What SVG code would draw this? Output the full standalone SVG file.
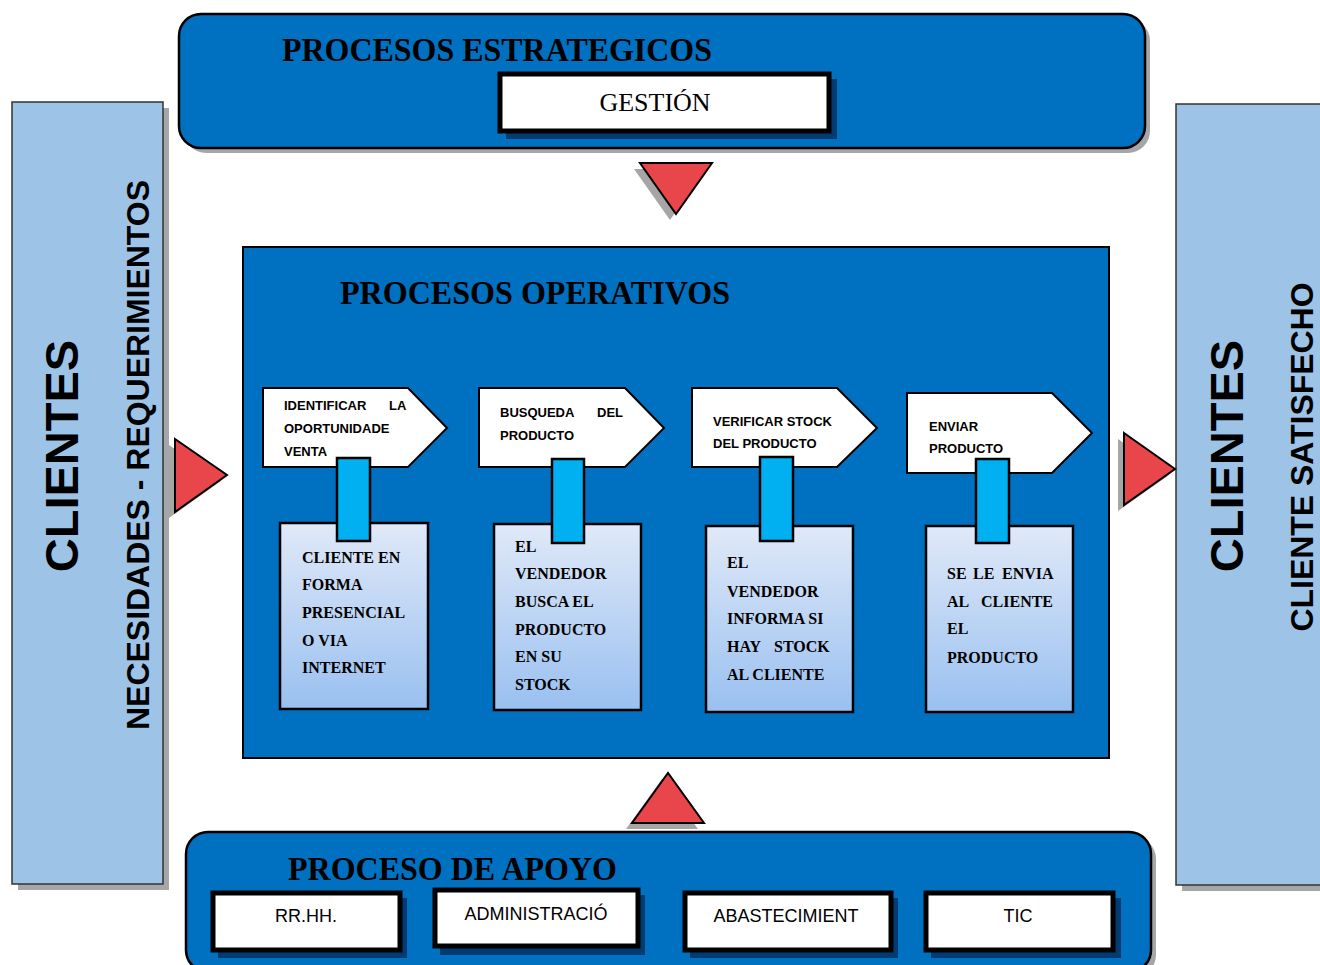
<svg xmlns="http://www.w3.org/2000/svg" width="1320" height="965" viewBox="0 0 1320 965">
<defs>
<linearGradient id="gr" x1="0" y1="0" x2="0" y2="1">
<stop offset="0" stop-color="#e0e9f8"/>
<stop offset="1" stop-color="#99c0f0"/>
</linearGradient>
</defs>
<style>
.panel{fill:#9dc3e6;stroke:#333;stroke-width:1.5}
.shadow{fill:#a6a6a6}
.dshadow{fill:#003c73}
.blue{fill:#0070c0;stroke:#000;stroke-width:2.5}
.wbox{fill:#fff;stroke:#000;stroke-width:5}
.pent{fill:#fff;stroke:#000;stroke-width:2}
.gbox{fill:url(#gr);stroke:#000;stroke-width:2.5}
.cyan{fill:#00b0f0;stroke:#000;stroke-width:2.5}
.tri{fill:#e8464a;stroke:#000;stroke-width:2}
.title{font-family:"Liberation Serif","Times New Roman",serif;font-weight:bold;font-size:33px;fill:#000}
.big{font-family:"Liberation Sans",Arial,sans-serif;font-weight:bold;font-size:47px;fill:#000}
.side{font-family:"Liberation Sans",Arial,sans-serif;font-weight:bold;font-size:32px;fill:#000}
.pt{font-family:"Liberation Sans",Arial,sans-serif;font-weight:bold;font-size:13px;fill:#000}
.bt{font-family:"Liberation Serif","Times New Roman",serif;font-weight:bold;font-size:16px;fill:#000}
.st{font-family:"Liberation Sans",Arial,sans-serif;font-size:18px;fill:#000}
</style>
<rect width="1320" height="965" fill="#fff"/>

<g id="clientes-izq">
<rect class="shadow" x="18" y="108" width="151" height="782"/>
<rect class="panel" x="12" y="102" width="151" height="782"/>
<text class="big" transform="translate(78,456) rotate(-90)" text-anchor="middle">CLIENTES</text>
<text class="side" transform="translate(149,455) rotate(-90)" text-anchor="middle" textLength="550" lengthAdjust="spacingAndGlyphs">NECESIDADES - REQUERIMIENTOS</text>
</g>

<g id="clientes-der">
<rect class="shadow" x="1182" y="110" width="150" height="781"/>
<rect class="panel" x="1176" y="104" width="150" height="781"/>
<text class="big" transform="translate(1243,456) rotate(-90)" text-anchor="middle">CLIENTES</text>
<text class="side" transform="translate(1313,457) rotate(-90)" text-anchor="middle" textLength="349" lengthAdjust="spacingAndGlyphs">CLIENTE SATISFECHO</text>
</g>

<g id="estrategicos">
<rect class="shadow" x="184" y="19" width="966" height="134" rx="22"/>
<rect class="blue" x="179" y="14" width="966" height="134" rx="22"/>
<text class="title" x="282" y="61" textLength="430" lengthAdjust="spacingAndGlyphs">PROCESOS ESTRATEGICOS</text>
</g>
<g id="gestion">
<rect class="dshadow" x="506" y="79" width="331" height="60"/>
<rect class="wbox" x="500" y="74" width="329" height="57"/>
<text x="655" y="111" text-anchor="middle" font-family="Liberation Serif, Times New Roman, serif" font-size="26">GESTIÓN</text>
</g>

<g id="operativos">
<rect x="243" y="247" width="866" height="511" fill="#0070c0" stroke="#000" stroke-width="2"/>
<text class="title" x="340" y="304" font-size="32" textLength="390" lengthAdjust="spacingAndGlyphs">PROCESOS OPERATIVOS</text>
</g>

<g id="p1">
<polygon class="pent" points="263,388 408,388 447,428 408,467 263,467"/>
<text class="pt" x="284" y="410">IDENTIFICAR</text>
<text class="pt" x="389" y="410">LA</text>
<text class="pt" x="284" y="433">OPORTUNIDADE</text>
<text class="pt" x="284" y="456">VENTA</text>
</g>
<g id="p2">
<polygon class="pent" points="479,388 625,388 664,428 625,467 479,467"/>
<text class="pt" x="500" y="417">BUSQUEDA</text>
<text class="pt" x="597" y="417">DEL</text>
<text class="pt" x="500" y="440">PRODUCTO</text>
</g>
<g id="p3">
<polygon class="pent" points="692,388 837,388 877,428 837,467 692,467"/>
<text class="pt" x="713" y="426">VERIFICAR STOCK</text>
<text class="pt" x="713" y="448">DEL PRODUCTO</text>
</g>
<g id="p4">
<polygon class="pent" points="907,393 1052,393 1092,433 1052,473 907,473"/>
<text class="pt" x="929" y="431">ENVIAR</text>
<text class="pt" x="929" y="453">PRODUCTO</text>
</g>

<g id="d1">
<rect class="gbox" x="280" y="523" width="148" height="186"/>
<text class="bt" x="302" y="563">CLIENTE EN</text>
<text class="bt" x="302" y="590">FORMA</text>
<text class="bt" x="302" y="618">PRESENCIAL</text>
<text class="bt" x="302" y="646">O VIA</text>
<text class="bt" x="302" y="673">INTERNET</text>
</g>
<g id="d2">
<rect class="gbox" x="494" y="524" width="147" height="186"/>
<text class="bt" x="515" y="552">EL</text>
<text class="bt" x="515" y="579">VENDEDOR</text>
<text class="bt" x="515" y="607">BUSCA EL</text>
<text class="bt" x="515" y="635">PRODUCTO</text>
<text class="bt" x="515" y="662">EN SU</text>
<text class="bt" x="515" y="690">STOCK</text>
</g>
<g id="d3">
<rect class="gbox" x="706" y="526" width="147" height="186"/>
<text class="bt" x="727" y="568">EL</text>
<text class="bt" x="727" y="597">VENDEDOR</text>
<text class="bt" x="727" y="624">INFORMA SI</text>
<text class="bt" x="727" y="652">HAY</text>
<text class="bt" x="774" y="652">STOCK</text>
<text class="bt" x="727" y="680">AL CLIENTE</text>
</g>
<g id="d4">
<rect class="gbox" x="926" y="526" width="147" height="186"/>
<text class="bt" x="947" y="579">SE</text>
<text class="bt" x="973" y="579">LE</text>
<text class="bt" x="1002" y="579">ENVIA</text>
<text class="bt" x="947" y="607">AL</text>
<text class="bt" x="981" y="607">CLIENTE</text>
<text class="bt" x="947" y="634">EL</text>
<text class="bt" x="947" y="663">PRODUCTO</text>
</g>

<g id="apoyo">
<rect class="shadow" x="191" y="837" width="965" height="140" rx="22"/>
<rect class="blue" x="186" y="832" width="965" height="140" rx="22"/>
<text class="title" x="288" y="880" textLength="329" lengthAdjust="spacingAndGlyphs">PROCESO DE APOYO</text>
</g>
<g id="rrhh">
<rect class="dshadow" x="218" y="898" width="189" height="60"/>
<rect class="wbox" x="213" y="893" width="187" height="57"/>
<text class="st" x="306" y="922" text-anchor="middle">RR.HH.</text>
</g>
<g id="admin">
<rect class="dshadow" x="440" y="895" width="205" height="60"/>
<rect class="wbox" x="435" y="890" width="203" height="56"/>
<text class="st" x="536" y="920" text-anchor="middle">ADMINISTRACIÓ</text>
</g>
<g id="abast">
<rect class="dshadow" x="690" y="898" width="208" height="60"/>
<rect class="wbox" x="685" y="893" width="206" height="57"/>
<text class="st" x="786" y="922" text-anchor="middle">ABASTECIMIENT</text>
</g>
<g id="tic">
<rect class="dshadow" x="931" y="898" width="190" height="60"/>
<rect class="wbox" x="926" y="893" width="187" height="57"/>
<text class="st" x="1018" y="922" text-anchor="middle">TIC</text>
</g>

<g id="connectors">
<polygon class="shadow" points="634,169 706,169 670,220"/>
<polygon class="tri" points="640,163 712,163 676,214"/>
<polygon class="shadow" points="626,829 698,829 662,779"/>
<polygon class="tri" points="632,823 704,823 668,773"/>
<polygon class="shadow" points="169,445 221,481 169,518"/>
<polygon class="tri" points="175,439 227,475 175,512"/>
<polygon class="shadow" points="1118,439 1169,475 1118,511"/>
<polygon class="tri" points="1124,433 1175,469 1124,505"/>
<rect class="cyan" x="337" y="458" width="33" height="83"/>
<rect class="cyan" x="552" y="459" width="32" height="84"/>
<rect class="cyan" x="760" y="457" width="33" height="84"/>
<rect class="cyan" x="976" y="459" width="33" height="84"/>
</g>
</svg>
